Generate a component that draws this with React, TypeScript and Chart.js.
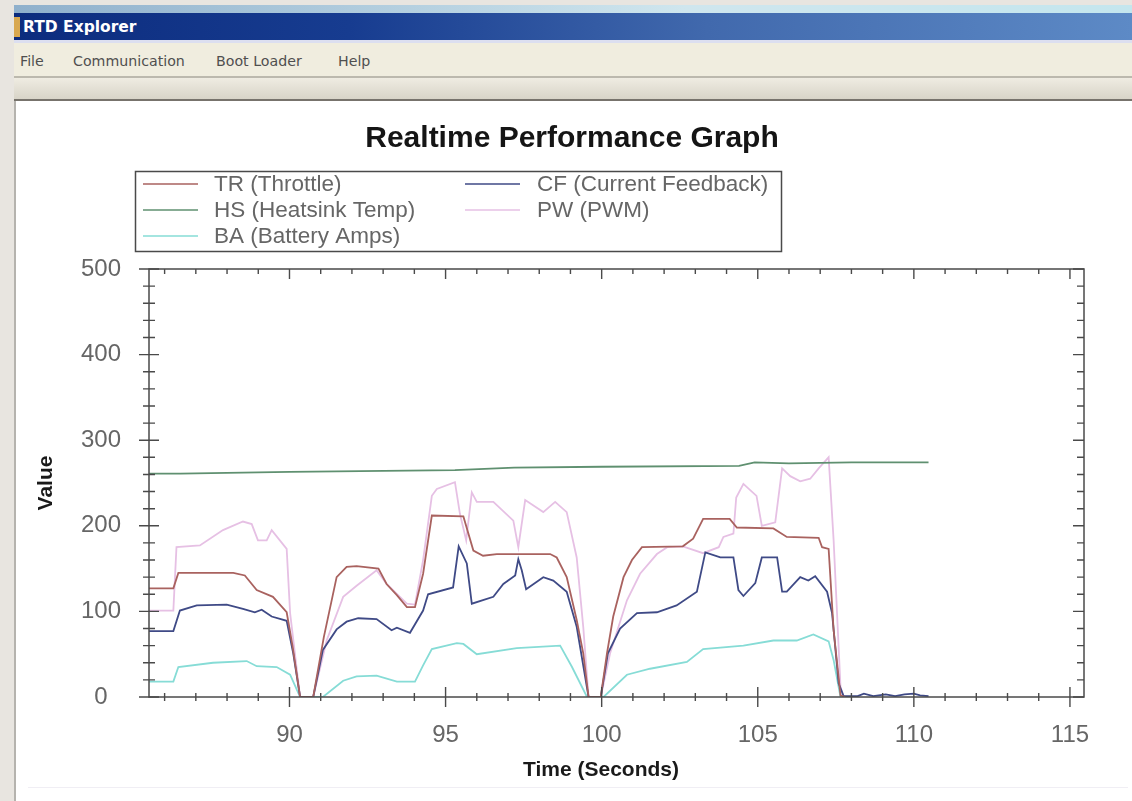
import React, { useEffect, useRef } from "react";
import { Chart, registerables } from "chart.js";

Chart.register(...registerables);

const FONT = "'Liberation Sans', Arial, sans-serif";

const trTime = [85.5, 86.28, 86.44, 88.2, 88.57, 88.95, 89.47, 89.91, 90.1, 90.34, 90.76, 91.1, 91.51, 91.83, 92.15, 92.85, 93.11, 93.44, 93.76, 94.02, 94.28, 94.56, 95.57, 95.89, 96.2, 96.64, 98.35, 98.56, 98.88, 99.2, 99.41, 99.58, 99.97, 100.17, 100.37, 100.7, 100.97, 101.29, 102.6, 102.93, 103.25, 104.1, 104.33, 105.5, 105.93, 106.95, 107.06, 107.27, 107.43, 107.65, 107.8];
const trValue = [127, 127, 145, 145, 142, 125, 117, 99, 59, 0, 0, 70, 140, 152, 153, 150, 132, 119, 105, 105, 144, 212, 211, 171, 165, 167, 167, 163, 140, 90, 51, 0, 0, 51, 94, 140, 160, 175, 176, 185, 208, 208, 198, 197, 187, 186, 175, 173, 78, 2, 0];

const cfTime = [85.5, 86.28, 86.49, 87.03, 87.99, 88.51, 88.89, 89.11, 89.43, 89.91, 90.12, 90.34, 90.76, 91.07, 91.51, 91.83, 92.2, 92.79, 93.27, 93.44, 93.86, 94.28, 94.44, 95.24, 95.42, 95.68, 95.84, 96.53, 96.85, 97.23, 97.33, 97.44, 97.58, 98.13, 98.45, 98.88, 99.2, 99.58, 99.97, 100.2, 100.59, 101.13, 101.77, 102.4, 103.05, 103.32, 103.8, 104.22, 104.38, 104.54, 104.92, 105.13, 105.62, 105.78, 105.93, 106.36, 106.62, 106.84, 107.22, 107.38, 107.59, 107.75, 108.2, 108.4, 108.7, 109.1, 109.4, 109.7, 110, 110.2, 110.47];
const cfValue = [77, 77, 101, 107, 108, 103, 99, 102, 94, 89, 51, 0, 0, 55, 79, 88, 92, 91, 78, 81, 75, 101, 120, 128, 176, 156, 109, 117, 132, 142, 161, 148, 126, 140, 136, 123, 82, 0, 0, 51, 80, 98, 99, 107, 123, 169, 163, 163, 125, 118, 133, 163, 163, 123, 123, 140, 136, 141, 123, 98, 16, 1, 1, 4, 1, 3, 1, 3, 4, 2, 1];

const hsTime = [85.5, 86.5, 90, 95.3, 97.2, 100, 104.4, 104.9, 106, 108, 110.47];
const hsValue = [261, 261, 263, 265, 268, 269, 270, 274, 273, 274, 274];

const pwTime = [85.5, 86.28, 86.38, 87.13, 87.87, 88.51, 88.79, 88.99, 89.27, 89.43, 89.91, 90.02, 90.34, 90.76, 91.19, 91.72, 92.15, 92.79, 93.11, 93.76, 94.02, 94.28, 94.56, 94.72, 95.3, 95.46, 95.66, 95.84, 96, 96.53, 97.17, 97.33, 97.55, 98.13, 98.51, 98.88, 99.2, 99.41, 99.58, 99.97, 100.27, 100.81, 101.23, 101.77, 102.1, 102.6, 103.25, 103.75, 103.9, 104.22, 104.31, 104.54, 104.96, 105.13, 105.56, 105.78, 106.04, 106.36, 106.68, 106.95, 107.27, 107.43, 107.65, 107.75];
const pwValue = [101, 101, 175, 177, 195, 205, 202, 183, 183, 195, 173, 98, 0, 0, 66, 117, 130, 148, 132, 109, 108, 160, 235, 243, 251, 214, 183, 239, 228, 228, 206, 175, 230, 216, 228, 216, 163, 82, 0, 0, 51, 113, 144, 167, 175, 176, 168, 175, 187, 191, 233, 249, 235, 200, 204, 267, 258, 252, 255, 267, 280, 183, 12, 0];

const baTime = [85.5, 86.28, 86.44, 87.55, 88.63, 88.95, 89.59, 90.02, 90.34, 91.07, 91.72, 92.15, 92.79, 93.44, 94.02, 94.28, 94.56, 95.36, 95.57, 96, 97.28, 98.67, 99.05, 99.53, 100.06, 100.81, 101.55, 102.73, 103.25, 104.54, 105.5, 106.25, 106.78, 107.27, 107.43, 107.65];
const baValue = [18, 18, 35, 40, 42, 36, 35, 26, 0, 0, 19, 24, 25, 18, 18, 37, 56, 63, 62, 50, 57, 60, 35, 0, 0, 26, 33, 41, 56, 60, 66, 66, 73, 65, 43, 0];

const seriesLabels = ["TR (Throttle)", "CF (Current Feedback)", "HS (Heatsink Temp)", "PW (PWM)", "BA (Battery Amps)"];
const seriesColors = ["#a9625f", "#3f4a86", "#5f9070", "#e6c0e4", "#86dcd6"];
const seriesTimes = [trTime, cfTime, hsTime, pwTime, baTime];
const seriesValues = [trValue, cfValue, hsValue, pwValue, baValue];

const chartTitle = "Realtime Performance Graph";
const xAxisTitle = "Time (Seconds)";
const yAxisTitle = "Value";
const menuItems = [
  { label: "File", left: 20 },
  { label: "Communication", left: 73 },
  { label: "Boot Loader", left: 216 },
  { label: "Help", left: 338 },
];

const frameColor = "#4a4a4a";

const framePlugin = {
  id: "frameTicks",
  afterDatasetsDraw(chart: any) {
    const { ctx, chartArea: a, scales } = chart;
    ctx.save();
    ctx.strokeStyle = frameColor;
    ctx.lineWidth = 1.5;
    ctx.strokeRect(a.left, a.top, a.right - a.left, a.bottom - a.top);
    ctx.lineWidth = 1.4;
    ctx.beginPath();
    scales.x.ticks.forEach((t: any, i: number) => {
      const major = t.value % 5 === 0;
      const x = scales.x.getPixelForTick(i);
      ctx.moveTo(x, a.bottom - (major ? 10 : 4));
      ctx.lineTo(x, a.bottom + (major ? 10 : 4));
      ctx.moveTo(x, a.top);
      ctx.lineTo(x, a.top + (major ? 10 : 5));
    });
    scales.y.ticks.forEach((t: any, i: number) => {
      const major = t.value % 100 === 0;
      const y = scales.y.getPixelForTick(i);
      ctx.moveTo(a.left - (major ? 10 : 6), y);
      ctx.lineTo(a.left + (major ? 10 : 6), y);
      ctx.moveTo(a.right, y);
      ctx.lineTo(a.right - (major ? 11 : 7), y);
    });
    ctx.stroke();

    ctx.fillStyle = "#1a1a1a";
    ctx.font = `bold 21px ${FONT}`;
    ctx.textAlign = "center";
    ctx.textBaseline = "middle";
    ctx.fillText(xAxisTitle, 601, 770);
    ctx.restore();
  },
};

const legendPlugin = {
  id: "boxLegend",
  afterDraw(chart: any) {
    const { ctx } = chart;
    const rows = [
      { index: 0, lineX: 143, textX: 214, y: 184 },
      { index: 2, lineX: 143, textX: 214, y: 210 },
      { index: 4, lineX: 143, textX: 214, y: 236 },
      { index: 1, lineX: 465, textX: 537, y: 184 },
      { index: 3, lineX: 465, textX: 537, y: 210 },
    ];
    ctx.save();
    ctx.strokeStyle = "#4a4a4a";
    ctx.lineWidth = 1.5;
    ctx.strokeRect(135.5, 171.5, 646, 80);
    ctx.font = `22.5px ${FONT}`;
    ctx.textAlign = "left";
    ctx.textBaseline = "middle";
    rows.forEach((r) => {
      const ds = chart.data.datasets[r.index];
      ctx.strokeStyle = ds.borderColor;
      ctx.lineWidth = 1.5;
      ctx.beginPath();
      ctx.moveTo(r.lineX, r.y);
      ctx.lineTo(r.lineX + 55, r.y);
      ctx.stroke();
      ctx.fillStyle = "#666666";
      ctx.fillText(ds.label, r.textX, r.y + 1);
    });
    ctx.restore();
  },
};

export default function App() {
  const ref = useRef<HTMLCanvasElement>(null);

  useEffect(() => {
    document.body.style.margin = "0";
    const chart = new Chart(ref.current as HTMLCanvasElement, {
      type: "line",
      data: {
        datasets: seriesLabels.map((label, i) => ({
          label,
          data: seriesTimes[i].map((t, j) => ({ x: t, y: seriesValues[i][j] })),
          borderColor: seriesColors[i],
          borderWidth: 1.8,
          pointRadius: 0,
          tension: 0,
          fill: false,
        })),
      },
      options: {
        responsive: false,
        animation: false,
        devicePixelRatio: 1,
        parsing: false,
        layout: { padding: 0 },
        plugins: {
          legend: { display: false },
          tooltip: { enabled: false },
          title: {
            display: true,
            text: chartTitle,
            color: "#151515",
            font: { family: FONT, size: 30, weight: "bold", lineHeight: 1.2 },
            padding: { top: 121, bottom: 112 },
          },
        },
        scales: {
          x: {
            type: "linear",
            min: 85.5,
            max: 115.45,
            grid: { display: false },
            border: { display: false },
            afterFit(s: any) {
              s.height = 104;
            },
            ticks: {
              stepSize: 1,
              includeBounds: false,
              autoSkip: false,
              maxRotation: 0,
              padding: 16,
              color: "#666666",
              font: { family: FONT, size: 24 },
              callback: (v: any) => (Number(v) % 5 === 0 ? String(v) : ""),
            },
          },
          y: {
            type: "linear",
            position: "left",
            min: 0,
            max: 500,
            grid: { display: false },
            border: { display: false },
            afterFit(s: any) {
              s.width = 149;
            },
            title: {
              display: true,
              text: yAxisTitle,
              color: "#1a1a1a",
              font: { family: FONT, size: 21, weight: "bold" },
              padding: { top: 34, bottom: 0 },
            },
            ticks: {
              stepSize: 20,
              autoSkip: false,
              padding: 20,
              crossAlign: "center",
              color: "#666666",
              font: { family: FONT, size: 24 },
              callback: (v: any) => (Number(v) % 100 === 0 ? String(v) : ""),
            },
          },
          rightSpacer: {
            type: "linear",
            position: "right",
            min: 0,
            max: 500,
            grid: { display: false },
            border: { display: false },
            ticks: { display: false },
            afterFit(s: any) {
              s.width = 60;
            },
          },
        },
      },
      plugins: [framePlugin, legendPlugin],
    } as any);
    return () => chart.destroy();
  }, []);

  return (
    <div style={{ position: "fixed", left: 0, top: 0, width: 1132, height: 801, overflow: "hidden", background: "#e8e5e0", filter: "blur(0.7px)" }}>
      <div style={{ position: "absolute", left: 14, top: 5, width: 1118, height: 8, background: "linear-gradient(90deg,#8fb0cc,#cfe6ee 60%,#c4e6ee)" }} />
      <div style={{ position: "absolute", left: 14, top: 13, width: 1118, height: 27, background: "linear-gradient(90deg,#0c2c7e 0%,#173c90 30%,#4169ad 62%,#5d8ac6 100%)" }} />
      <div style={{ position: "absolute", left: 14, top: 17, width: 6, height: 20, background: "#d8a850" }} />
      <div style={{ position: "absolute", left: 23, top: 17, color: "#ffffff", fontFamily: "'DejaVu Sans', sans-serif", fontWeight: 700, fontSize: 15.5, lineHeight: "20px", whiteSpace: "nowrap" }}>RTD Explorer</div>
      <div style={{ position: "absolute", left: 14, top: 40, width: 1118, height: 3, background: "#dcdff0" }} />
      <div style={{ position: "absolute", left: 14, top: 43, width: 1118, height: 33, background: "#f0eddf" }} />
      {menuItems.map((m) => (
        <div key={m.label} style={{ position: "absolute", left: m.left, top: 51, color: "#4f4f4f", fontFamily: "'DejaVu Sans', sans-serif", fontSize: 14.2, lineHeight: "20px", whiteSpace: "nowrap" }}>{m.label}</div>
      ))}
      <div style={{ position: "absolute", left: 14, top: 76, width: 1118, height: 2, background: "#bcb9ae" }} />
      <div style={{ position: "absolute", left: 14, top: 78, width: 1118, height: 21, background: "linear-gradient(180deg,#efece2,#d8d4c8)" }} />
      <div style={{ position: "absolute", left: 14, top: 99, width: 1118, height: 2, background: "#77736c" }} />
      <div style={{ position: "absolute", left: 14, top: 101, width: 1118, height: 700, background: "#ffffff", borderLeft: "2px solid #b5b3ae", boxSizing: "border-box" }} />
      <div style={{ position: "absolute", left: 28, top: 787, width: 1100, height: 1, background: "#f0eef4" }} />
      <canvas ref={ref} width={1144} height={801} style={{ position: "absolute", left: 0, top: 0, width: 1144, height: 801 }} />
    </div>
  );
}
